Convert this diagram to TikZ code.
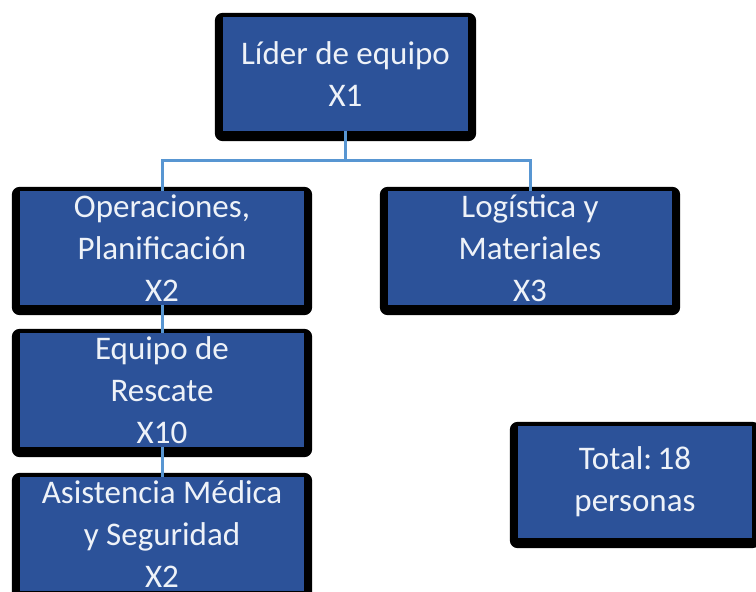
\documentclass[tikz,border=0pt]{standalone}
\usepackage{fontspec}
\setmainfont{Carlito}
\usetikzlibrary{backgrounds}
\definecolor{boxblue}{RGB}{44,82,153}
\definecolor{linkblue}{RGB}{88,150,210}
\definecolor{txtwhite}{RGB}{238,242,248}
\newcommand{\orgbox}[6]{%
  \node[orgnode, minimum width=#4pt, minimum height=#5pt] (#1) at (#2,#3) {#6};
  \begin{scope}[on background layer]
    \fill[black, rounded corners=8pt] ([shift={(-8,-4)}]#1.north west) rectangle ([shift={(8,10)}]#1.south east);
  \end{scope}}
\begin{document}
\begin{tikzpicture}[x=1pt,y=-1pt,
  orgnode/.style={rectangle, fill=boxblue, inner sep=0pt, align=center,
    text=txtwhite, font=\fontsize{33}{42}\selectfont},
  conn/.style={draw=linkblue, line width=3pt}]
\useasboundingbox (0,0) rectangle (756,592);
\clip (0,0) rectangle (756,592);
\begin{scope}[on background layer]
  \fill[white] (0,0) rectangle (756,592);
\end{scope}
\orgbox{lider}{345.5}{74}{245}{114}{Líder de equipo\\X1}
\orgbox{oper}{162}{248}{284}{114}{Operaciones,\\Planificación\\X2}
\orgbox{equipo}{162}{390}{284}{114}{Equipo de\\Rescate\\X10}
\orgbox{asist}{162}{534}{284}{114}{Asistencia Médica\\y Seguridad\\X2}
\orgbox{logis}{530}{248}{284}{114}{Logística y\\Materiales\\X3}
\orgbox{total}{635}{482}{234}{112}{Total:\,18\\personas}
\coordinate (j) at (345.5,160);
\draw[conn] (lider.south) -- (j);
\draw[conn] (oper.north) |- (j) -| (logis.north);
\draw[conn] (oper.south) -- (equipo.north);
\draw[conn] (equipo.south) -- (asist.north);
\end{tikzpicture}
\end{document}
